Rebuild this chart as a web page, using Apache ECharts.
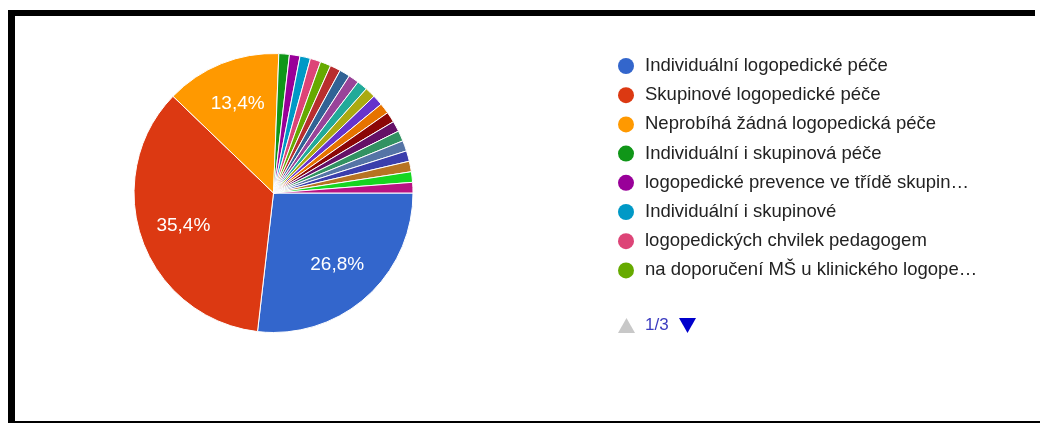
<!DOCTYPE html>
<html>
<head>
<meta charset="utf-8">
<script src="https://cdn.jsdelivr.net/npm/echarts@6/dist/echarts.min.js"></script>
<style>
  html, body { margin: 0; padding: 0; background: #fff; }
  #chart { width: 1040px; height: 423px; }
</style>
</head>
<body>
<div id="chart"></div>
<script>
// Answer categories (legend order)
const categories = [
  'Individuální logopedické péče',
  'Skupinové logopedické péče',
  'Neprobíhá žádná logopedická péče',
  'Individuální i skupinová péče',
  'logopedické prevence ve třídě skupin…',
  'Individuální i skupinové',
  'logopedických chvilek pedagogem',
  'na doporučení MŠ u klinického logope…',
  'Jiná odpověď 9', 'Jiná odpověď 10', 'Jiná odpověď 11', 'Jiná odpověď 12',
  'Jiná odpověď 13', 'Jiná odpověď 14', 'Jiná odpověď 15', 'Jiná odpověď 16',
  'Jiná odpověď 17', 'Jiná odpověď 18', 'Jiná odpověď 19', 'Jiná odpověď 20',
  'Jiná odpověď 21', 'Jiná odpověď 22', 'Jiná odpověď 23'
];

// Number of responses per category
const responses = [22, 29, 11, 1, 1, 1, 1, 1, 1, 1, 1, 1, 1, 1, 1, 1, 1, 1, 1, 1, 1, 1, 1];

// Slice colours
const palette = [
  '#3366cc', '#dc3912', '#ff9900', '#109618', '#990099', '#0099c6', '#dd4477',
  '#66aa00', '#b82e2e', '#316395', '#994499', '#22aa99', '#aaaa11', '#6633cc',
  '#e67300', '#8b0707', '#651067', '#329262', '#5574a6', '#3b3eac', '#b77322',
  '#16d620', '#b91383'
];

// Legend shows one page of entries at a time
const legendPageSize = 8;
const legendPage = 1;

const total = responses.reduce((a, b) => a + b, 0);
const pieData = categories.map((name, i) => ({ name: name, value: responses[i] }));
const pageCount = Math.ceil(categories.length / legendPageSize);
const pageEntries = categories.slice((legendPage - 1) * legendPageSize, legendPage * legendPageSize);

const center = [273.5, 193];
const outerR = 139.5;
const fontFamily = '"Liberation Sans", Arial, sans-serif';

function percentText(value) {
  const p = value / total * 100;
  return p >= 5 ? p.toFixed(1).replace('.', ',') + '%' : '';
}

const chart = echarts.init(document.getElementById('chart'), null, { renderer: 'canvas' });

chart.setOption({
  animation: false,
  backgroundColor: '#fff',
  color: palette,
  legend: {
    orient: 'vertical',
    left: 618,
    top: 56.5,
    padding: 0,
    icon: 'circle',
    itemWidth: 16,
    itemHeight: 16,
    itemGap: 10.2,
    itemStyle: { borderWidth: 0 },
    textStyle: {
      fontFamily: fontFamily,
      fontSize: 18.5,
      lineHeight: 19,
      color: '#222',
      padding: [0, 0, 0, 6]
    },
    data: pageEntries
  },
  series: [
    {
      // the pie itself
      type: 'pie',
      center: center,
      radius: [0, outerR],
      startAngle: 0,
      clockwise: true,
      avoidLabelOverlap: false,
      itemStyle: { borderColor: '#fff', borderWidth: 1 },
      label: { show: false },
      labelLine: { show: false },
      emphasis: { disabled: true },
      data: pieData
    },
    {
      // transparent ring carrying the percentage labels
      type: 'pie',
      center: center,
      radius: [46, outerR],
      startAngle: 0,
      clockwise: true,
      silent: true,
      avoidLabelOverlap: false,
      itemStyle: { color: 'rgba(0,0,0,0)', borderWidth: 0 },
      label: {
        show: true,
        position: 'inside',
        color: '#fff',
        fontFamily: fontFamily,
        fontSize: 19,
        formatter: p => percentText(p.value)
      },
      labelLine: { show: false },
      emphasis: { disabled: true },
      data: pieData
    }
  ],
  graphic: [
    // frame
    { type: 'rect', shape: { x: 8, y: 10, width: 1027, height: 6 }, style: { fill: '#000' } },
    { type: 'rect', shape: { x: 8, y: 10, width: 7, height: 413 }, style: { fill: '#000' } },
    { type: 'rect', shape: { x: 8, y: 421, width: 1032, height: 2 }, style: { fill: '#000' } },
    // legend pager: previous (inactive), page text, next
    {
      type: 'polygon',
      shape: { points: [[618, 333], [635, 333], [626.5, 318]] },
      style: { fill: legendPage > 1 ? '#0000cc' : '#c8c8c8' }
    },
    {
      type: 'text',
      x: 645, y: 325.5,
      style: {
        text: legendPage + '/' + pageCount,
        fill: '#3c3cc0',
        font: '17px ' + fontFamily,
        verticalAlign: 'middle'
      }
    },
    {
      type: 'polygon',
      shape: { points: [[679, 318], [696, 318], [687.5, 333]] },
      style: { fill: legendPage < pageCount ? '#0000cc' : '#c8c8c8' }
    }
  ]
});
</script>
</body>
</html>
